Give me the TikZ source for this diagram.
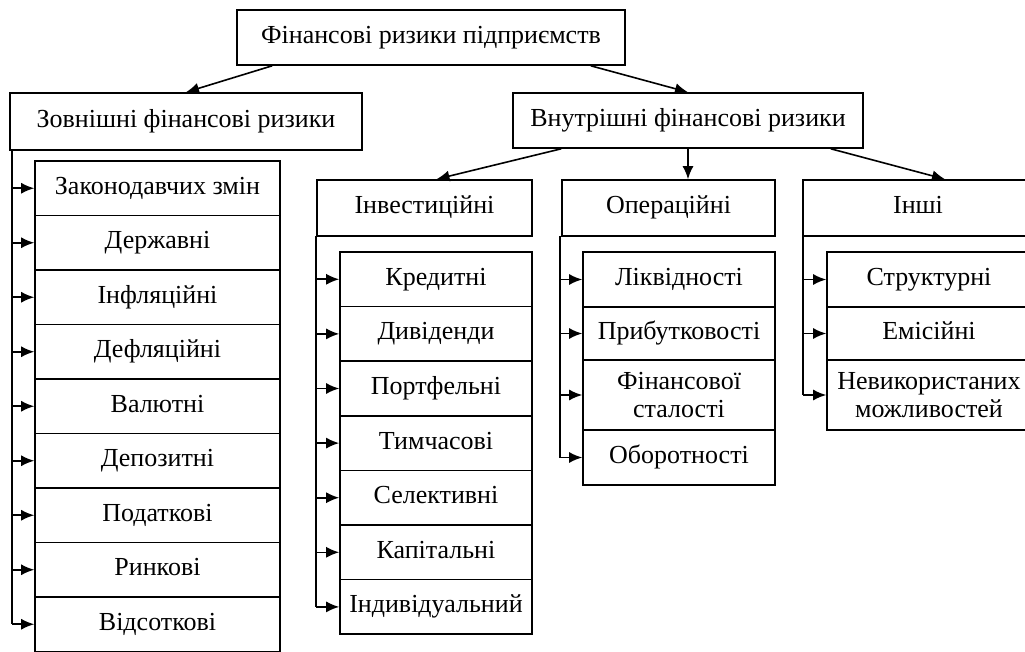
\documentclass[tikz,border=0pt]{standalone}
\usepackage{fontspec}
\setmainfont{Liberation Serif}
\usetikzlibrary{arrows.meta}
\newcommand\riskfont{\fontsize{26}{28}\selectfont}
\tikzset{
	riskbox/.style={draw, line width=1.6pt, inner sep=0pt, align=center, font=\riskfont},
	riskline/.style={riskbox, text height=18pt, text depth=6pt},
	riskarrow/.style={line width=1.6pt, -{Latex[length=13pt,width=11pt]}}
}

\begin{document}
\begin{tikzpicture}[x=1pt, y=-1pt]
			%%%%% START %%%%%
			\useasboundingbox (0, 0) rectangle (1025, 652);
			\clip (0, 0) rectangle (1025, 652);
			
			\node[riskline, minimum width=388pt, minimum height=55pt] (top) at (431, 37.5) {Фінансові ризики підприємств};
			
			\node[riskline, minimum width=352pt, minimum height=57pt] (ext) at (186, 121.5) {Зовнішні фінансові ризики};
			\node[riskline, minimum width=350pt, minimum height=55pt] (int) at (688, 120.5) {Внутрішні фінансові ризики};
			
			\node[riskline, minimum width=215pt, minimum height=56pt] (inv) at (424.5, 208) {Інвестиційні};
			\node[riskline, minimum width=213pt, minimum height=56pt] (oper) at (668.5, 208) {Операційні};
			\node[riskline, minimum width=230pt, minimum height=56pt] (other) at (918, 208) {Інші};
			
			\draw[riskarrow] ([xshift=36pt]top.south west) -- (ext.north);
			\draw[riskarrow] ([xshift=-35pt]top.south east) -- (int.north);
			\draw[riskarrow] ([xshift=49pt]int.south west) -- ([xshift=12pt]inv.north);
			\draw[riskarrow] (int.south) -- (int.south |- oper.north);
			\draw[riskarrow] ([xshift=-33pt]int.south east) -- ([xshift=27pt]other.north);
			
			% external risks
			\foreach \name [count=\i from 0] in {Законодавчих змін, Державні, Інфляційні, Дефляційні, Валютні, Депозитні, Податкові, Ринкові, Відсоткові}
				\node[riskline, minimum width=245pt, minimum height=54.5pt] (ext\i) at (157.5, 188.25+54.5*\i) {\name};
			\coordinate (extbus) at (12, 150);
			\draw[line width=1.6pt] (extbus) -- (extbus |- ext8.west);
			\foreach \i in {0,...,8}
				\draw[riskarrow] (extbus |- ext\i.west) -- (ext\i.west);
			
			% investment risks
			\foreach \name [count=\i from 0] in {Кредитні, Дивіденди, Портфельні, Тимчасові, Селективні, Капітальні, Індивідуальний}
				\node[riskline, minimum width=192pt, minimum height=54.6pt] (inv\i) at (436, 279.3+54.6*\i) {\name};
			\coordinate (invbus) at (316, 236);
			\draw[line width=1.6pt] (invbus) -- (invbus |- inv6.west);
			\foreach \i in {0,...,6}
				\draw[riskarrow] (invbus |- inv\i.west) -- (inv\i.west);
			
			% operational risks
			\node[riskline, minimum width=192pt, minimum height=55pt] (oper0) at (679, 279.5) {Ліквідності};
			\node[riskline, minimum width=192pt, minimum height=53pt] (oper1) at (679, 333.5) {Прибутковості};
			\node[riskbox, minimum width=192pt, minimum height=70pt] (oper2) at (679, 395) {Фінансової\\сталості};
			\node[riskline, minimum width=192pt, minimum height=55pt] (oper3) at (679, 457.5) {Оборотності};
			\coordinate (operbus) at (560, 236);
			\draw[line width=1.6pt] (operbus) -- (operbus |- oper3.west);
			\foreach \i in {0,...,3}
				\draw[riskarrow] (operbus |- oper\i.west) -- (oper\i.west);
			
			% other risks
			\node[riskline, minimum width=204pt, minimum height=55pt] (other0) at (929, 279.5) {Структурні};
			\node[riskline, minimum width=204pt, minimum height=53pt] (other1) at (929, 333.5) {Емісійні};
			\node[riskbox, minimum width=204pt, minimum height=70pt] (other2) at (929, 395) {Невикористаних\\можливостей};
			\coordinate (otherbus) at (803, 236);
			\draw[line width=1.6pt] (otherbus) -- (otherbus |- other2.west);
			\foreach \i in {0,...,2}
				\draw[riskarrow] (otherbus |- other\i.west) -- (other\i.west);
			
			%%%%% END %%%%%
		\end{tikzpicture}
\end{document}
